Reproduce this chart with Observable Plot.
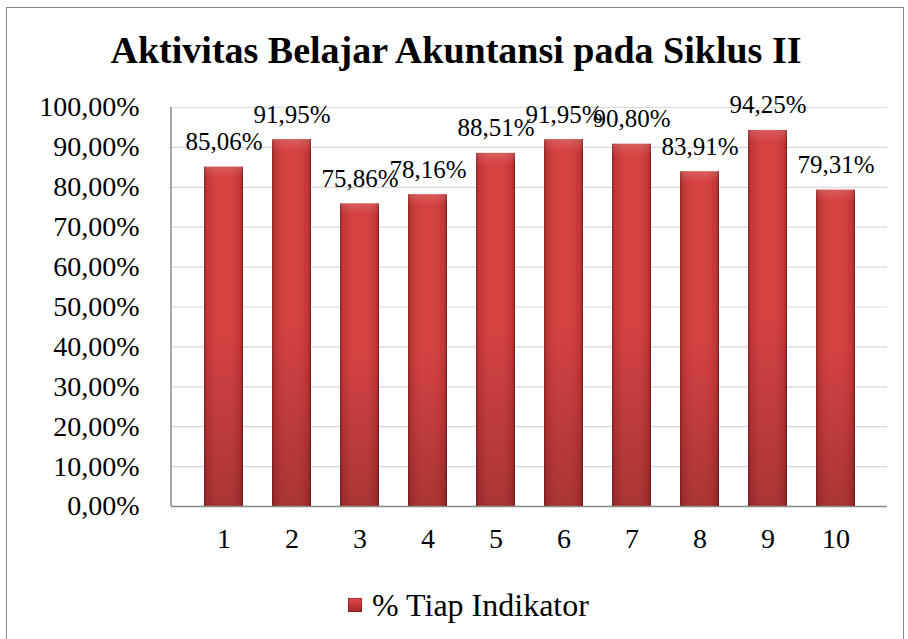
<!DOCTYPE html>
<html>
<head>
<meta charset="utf-8">
<script src="https://cdn.jsdelivr.net/npm/d3@7"></script>
<script src="https://cdn.jsdelivr.net/npm/@observablehq/plot@0.6"></script>
<style>
  html, body { margin: 0; padding: 0; background: #fff; }
  body { width: 908px; height: 639px; position: relative; overflow: hidden; font-family: "Liberation Serif", "DejaVu Serif", "Noto Serif", FreeSerif, Tinos, "Times New Roman", serif; }
  #frame { position: absolute; left: 6px; top: 7px; width: 898px; height: 640px; border: 1.5px solid #8a8a8a; box-sizing: border-box; }
  #title { position: absolute; left: 6px; width: 900px; top: 31px; line-height: 38px; text-align: center; font-weight: bold; font-size: 38px; color: #000; }
  #chart { position: absolute; left: 0; top: 60px; }
  #legend { position: absolute; left: 348px; top: 588px; display: flex; align-items: center; font-size: 32px; line-height: 34px; color: #000; }
  #legend .sw { width: 14px; height: 14px; margin-right: 10px; background: linear-gradient(to bottom, #e05050 0%, #c83838 45%, #9c2a2a 100%); box-shadow: inset 0 0 0 1px rgba(120,20,20,0.5); }
  #chart svg, #chart svg text { font-family: "Liberation Serif", "DejaVu Serif", "Noto Serif", FreeSerif, Tinos, "Times New Roman", serif !important; }
</style>
</head>
<body>
<div id="frame"></div>
<div id="title">Aktivitas Belajar Akuntansi pada Siklus II</div>
<div id="chart"></div>
<div id="legend"><span class="sw"></span><span>% Tiap Indikator</span></div>
<script>
const categories = ["1", "2", "3", "4", "5", "6", "7", "8", "9", "10"];
const values = [85.06, 91.95, 75.86, 78.16, 88.51, 91.95, 90.80, 83.91, 94.25, 79.31];
const yTicks = [0, 10, 20, 30, 40, 50, 60, 70, 80, 90, 100];
const seriesName = "% Tiap Indikator";

const data = categories.map((c, i) => ({ cat: c, value: values[i] }));
const fmt = v => v.toFixed(2).replace(".", ",") + "%";

const plot = Plot.plot({
  width: 908,
  height: 518,
  marginTop: 47,
  marginBottom: 72,
  marginLeft: 171,
  marginRight: 21,
  style: { color: "#000", background: "transparent", overflow: "visible" },
  x: { domain: categories, padding: 0.43, label: null },
  y: { domain: [0, 100], label: null },
  marks: [
    Plot.gridY(yTicks, { stroke: "#d9d9d9", strokeOpacity: 1, strokeWidth: 1.2 }),
    Plot.axisY(yTicks, { tickSize: 0, tickPadding: 32, tickFormat: fmt, fontSize: 28, label: null }),
    Plot.axisX({ tickSize: 0, tickPadding: 22, fontSize: 28, label: null }),
    Plot.barY(data, { x: "cat", y: "value", fill: "url(#barGradH)" }),
    Plot.barY(data, { x: "cat", y: "value", fill: "url(#barGradV)" }),
    Plot.ruleY([0], { stroke: "#8a8a8a", strokeWidth: 1.5 }),
    Plot.text(data, { x: "cat", y: "value", text: d => fmt(d.value), lineAnchor: "bottom", dy: -17, fontSize: 25, fill: "#000" })
  ]
});

const svg = d3.select(plot);
const defs = svg.insert("defs", ":first-child");
const gh = defs.append("linearGradient").attr("id", "barGradH").attr("x1", "0").attr("x2", "1").attr("y1", "0").attr("y2", "0");
[[0, "#8f2424"], [0.07, "#c13737"], [0.3, "#d44242"], [0.7, "#d44242"], [0.93, "#c13737"], [1, "#7e1f1f"]]
  .forEach(([o, c]) => gh.append("stop").attr("offset", o).attr("stop-color", c));
const gv = defs.append("linearGradient").attr("id", "barGradV").attr("x1", "0").attr("x2", "0").attr("y1", "0").attr("y2", "1");
[[0, "#ffffff", 0.14], [0.035, "#ffffff", 0.0], [0.5, "#000000", 0.0], [1, "#000000", 0.2]]
  .forEach(([o, c, a]) => gv.append("stop").attr("offset", o).attr("stop-color", c).attr("stop-opacity", a));

// left axis line drawn from the scales
const xr = plot.scale("x").range;
const yr = plot.scale("y").range;
svg.append("line")
  .attr("x1", xr[0]).attr("x2", xr[0])
  .attr("y1", Math.min(...yr)).attr("y2", Math.max(...yr))
  .attr("stroke", "#8a8a8a").attr("stroke-width", 1.5);

document.getElementById("chart").appendChild(plot);
</script>
</body>
</html>
